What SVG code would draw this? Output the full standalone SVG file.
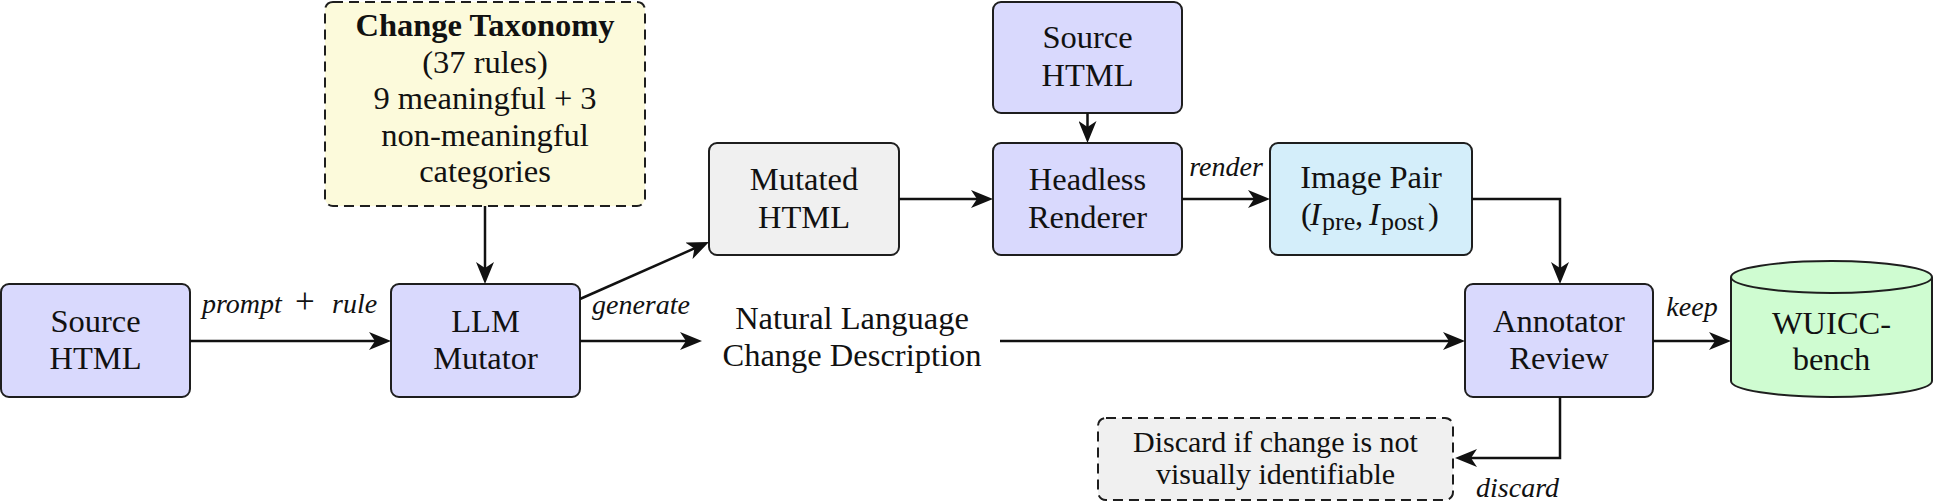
<svg xmlns="http://www.w3.org/2000/svg" width="1933" height="502" viewBox="0 0 1933 502">
<style>
  .box { stroke: #1e1e1e; stroke-width: 2; }
  .blue { fill: #D9D9FD; }
  .gray { fill: #F0F0F0; }
  .cyan { fill: #D4EEFA; }
  .green { fill: #CFFCD1; }
  .yellow { fill: #FCFADB; }
  .dash { stroke-dasharray: 10 6; }
  .t { font-family: "Liberation Serif", "Times New Roman", serif; font-size: 32.5px; fill: #111; text-anchor: middle; }
  .tb { font-weight: bold; }
  .ts { font-size: 30px; }
  .lbl { font-family: "Liberation Serif", "Times New Roman", serif; font-size: 28px; font-style: italic; fill: #111; }
  .conn { fill: none; stroke: #111; stroke-width: 2.5; marker-end: url(#arr); }
</style>
<defs>
  <marker id="arr" markerUnits="userSpaceOnUse" markerWidth="23" markerHeight="18" refX="14" refY="9" orient="auto">
    <path d="M0,0 L22,9 L0,18 L6,9 Z" fill="#111"/>
  </marker>
</defs>
<rect width="1933" height="502" fill="#ffffff"/>

<g id="source-left">
  <rect class="box blue" x="1" y="284" width="189" height="113" rx="8"/>
  <text class="t" x="95.5" y="332">Source</text>
  <text class="t" x="95.5" y="369">HTML</text>
</g>

<g id="taxonomy">
  <rect class="box yellow dash" x="325" y="2" width="320" height="204" rx="8"/>
  <text class="t tb" x="485" y="36">Change Taxonomy</text>
  <text class="t" x="485" y="72.5">(37 rules)</text>
  <text class="t" x="485" y="109">9 meaningful + 3</text>
  <text class="t" x="485" y="145.5">non-meaningful</text>
  <text class="t" x="485" y="182">categories</text>
</g>

<g id="llm-mutator">
  <rect class="box blue" x="391" y="284" width="189" height="113" rx="8"/>
  <text class="t" x="485.5" y="332">LLM</text>
  <text class="t" x="485.5" y="369">Mutator</text>
</g>

<g id="mutated-html">
  <rect class="box gray" x="709" y="143" width="190" height="112" rx="8"/>
  <text class="t" x="804" y="190">Mutated</text>
  <text class="t" x="804" y="227.5">HTML</text>
</g>

<g id="natural-language">
  <text class="t" x="852" y="329">Natural Language</text>
  <text class="t" x="852" y="366">Change Description</text>
</g>

<g id="source-top">
  <rect class="box blue" x="993" y="2" width="189" height="111" rx="8"/>
  <text class="t" x="1087.5" y="48">Source</text>
  <text class="t" x="1087.5" y="85.5">HTML</text>
</g>

<g id="headless-renderer">
  <rect class="box blue" x="993" y="143" width="189" height="112" rx="8"/>
  <text class="t" x="1087.5" y="190">Headless</text>
  <text class="t" x="1087.5" y="227.5">Renderer</text>
</g>

<g id="image-pair">
  <rect class="box cyan" x="1270" y="143" width="202" height="112" rx="8"/>
  <text class="t" x="1371" y="188">Image Pair</text>
  <text class="t" y="225" style="text-anchor:start"><tspan x="1301">(</tspan><tspan x="1310" font-style="italic">I</tspan><tspan x="1322" dy="5" font-size="26">pre</tspan><tspan x="1355" dy="-5">,</tspan><tspan x="1369" font-style="italic">I</tspan><tspan x="1381" dy="5" font-size="26">post</tspan><tspan x="1428" dy="-5">)</tspan></text>
</g>

<g id="annotator-review">
  <rect class="box blue" x="1465" y="284" width="188" height="113" rx="8"/>
  <text class="t" x="1559" y="332">Annotator</text>
  <text class="t" x="1559" y="369">Review</text>
</g>

<g id="wuicc-bench">
  <path class="box green" d="M1731,277 A100.5,16 0 0,1 1932,277 V381 A100.5,16 0 0,1 1731,381 Z"/>
  <path class="box" fill="none" d="M1731,277 A100.5,16 0 0,0 1932,277"/>
  <text class="t" x="1831.5" y="334">WUICC-</text>
  <text class="t" x="1831.5" y="370">bench</text>
</g>

<g id="discard-box">
  <rect class="box gray dash" x="1098" y="418" width="355" height="82" rx="8"/>
  <text class="t ts" x="1275.5" y="452">Discard if change is not</text>
  <text class="t ts" x="1275.5" y="484">visually identifiable</text>
</g>

<g id="connectors">
  <path class="conn" d="M190,341 H383"/>
  <path class="conn" d="M485,206 V276"/>
  <path class="conn" d="M580,299 L701.7,245.2"/>
  <path class="conn" d="M580,341 H694"/>
  <path class="conn" d="M899,199 H985"/>
  <path class="conn" d="M1087.5,113 V135"/>
  <path class="conn" d="M1182,199 H1262"/>
  <path class="conn" d="M1472,199 H1560 V276"/>
  <path class="conn" d="M1000,341 H1457"/>
  <path class="conn" d="M1653,341 H1723"/>
  <path class="conn" d="M1560,397 V458 H1463"/>
  <text class="lbl" y="313"><tspan x="202">prompt</tspan><tspan x="295" font-style="normal" font-size="35">+</tspan><tspan x="332">rule</tspan></text>
  <text class="lbl" x="641" y="314" text-anchor="middle">generate</text>
  <text class="lbl" x="1226" y="176" text-anchor="middle">render</text>
  <text class="lbl" x="1692" y="316" text-anchor="middle">keep</text>
  <text class="lbl" x="1559" y="497" text-anchor="end">discard</text>
</g>
</svg>
